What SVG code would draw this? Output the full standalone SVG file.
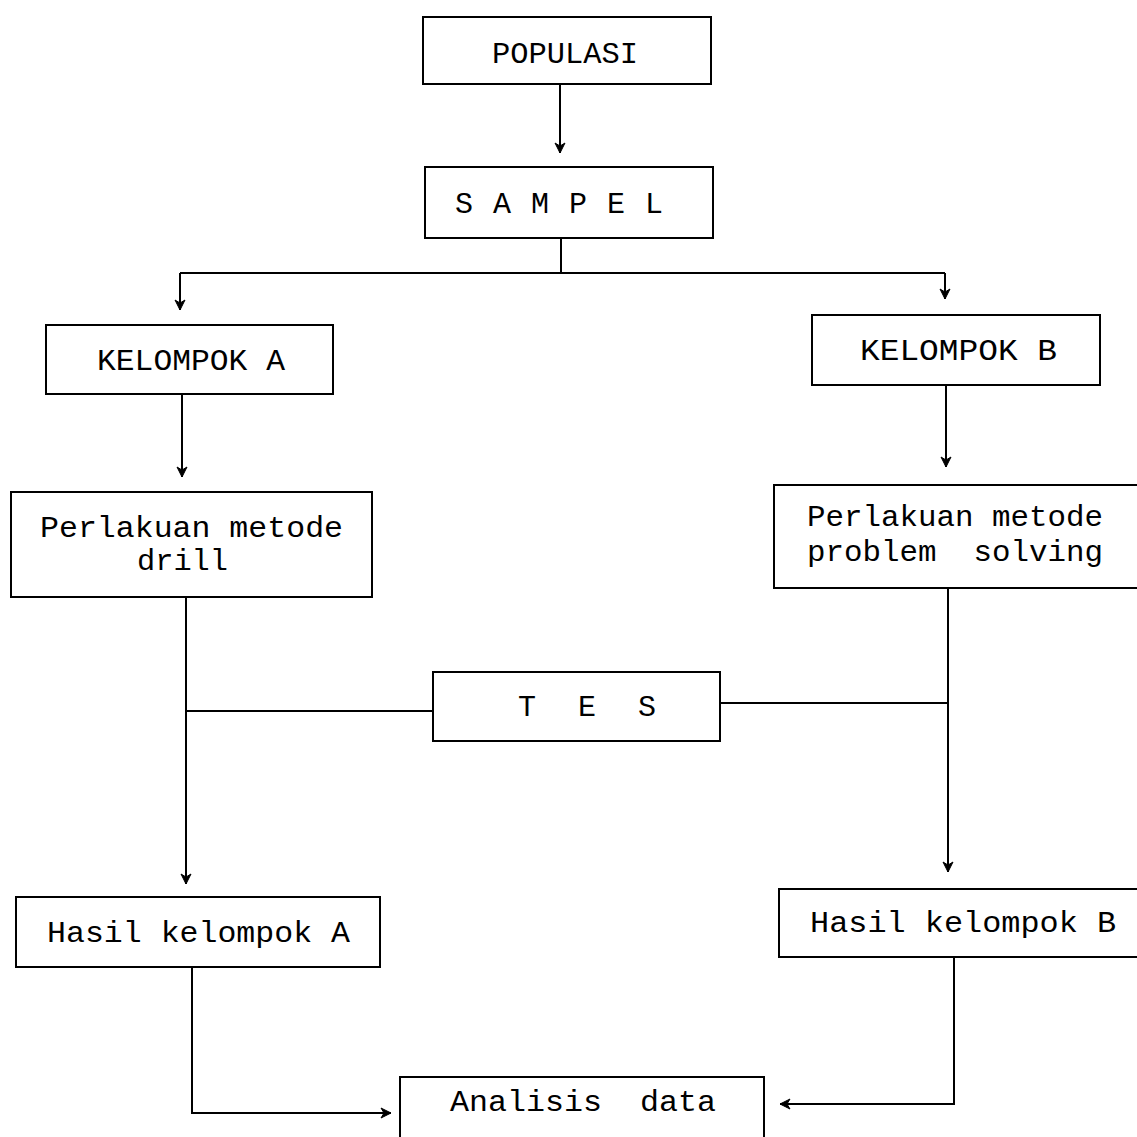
<svg xmlns="http://www.w3.org/2000/svg" width="1137" height="1137" viewBox="0 0 1137 1137">
  <style>
    .box { fill: #fff; stroke: #000; stroke-width: 2; }
    .lbl { font-family: "Liberation Mono", "DejaVu Sans Mono", monospace; font-size: 30px; fill: #000; }
    .wire { fill: none; stroke: #000; stroke-width: 2; }
  </style>
  <defs>
    <marker id="arr" viewBox="0 0 12 12" refX="11" refY="6" markerWidth="12" markerHeight="12" markerUnits="userSpaceOnUse" orient="auto">
      <path d="M1,1 L11,6 L1,11 L4,6 Z" fill="#000" stroke="#000" stroke-width="1"/>
    </marker>
  </defs>
  <rect width="1137" height="1137" fill="#fff"/>

  <g id="connectors">
    <path class="wire" d="M560,83 V153" marker-end="url(#arr)"/>
    <path class="wire" d="M561,238 V272"/>
    <path class="wire" d="M180,273 H945"/>
    <path class="wire" d="M180,273 V310" marker-end="url(#arr)"/>
    <path class="wire" d="M945,273 V299" marker-end="url(#arr)"/>
    <path class="wire" d="M182,394 V477" marker-end="url(#arr)"/>
    <path class="wire" d="M946,385 V467" marker-end="url(#arr)"/>
    <path class="wire" d="M186,597 V884" marker-end="url(#arr)"/>
    <path class="wire" d="M948,588 V872" marker-end="url(#arr)"/>
    <path class="wire" d="M187,711 H432"/>
    <path class="wire" d="M720,703 H948"/>
    <path class="wire" d="M192,967 V1113 H391" marker-end="url(#arr)"/>
    <path class="wire" d="M954,957 V1104 H780" marker-end="url(#arr)"/>
  </g>

  <g id="populasi">
    <rect class="box" x="423" y="17" width="288" height="67"/>
    <text class="lbl" x="492" y="63" textLength="146" lengthAdjust="spacingAndGlyphs">POPULASI</text>
  </g>
  <g id="sampel">
    <rect class="box" x="425" y="167" width="288" height="71"/>
    <text class="lbl" x="455" y="213" textLength="208" lengthAdjust="spacing" xml:space="preserve">S A M P E L</text>
  </g>
  <g id="kelompok-a">
    <rect class="box" x="46" y="325" width="287" height="69"/>
    <text class="lbl" x="97" y="370" textLength="188" lengthAdjust="spacingAndGlyphs">KELOMPOK A</text>
  </g>
  <g id="kelompok-b">
    <rect class="box" x="812" y="315" width="288" height="70"/>
    <text class="lbl" x="860" y="360" textLength="197" lengthAdjust="spacingAndGlyphs">KELOMPOK B</text>
  </g>
  <g id="perlakuan-drill">
    <rect class="box" x="11" y="492" width="361" height="105"/>
    <text class="lbl" x="40" y="537" textLength="303" lengthAdjust="spacingAndGlyphs">Perlakuan metode</text>
    <text class="lbl" x="137" y="570" textLength="91" lengthAdjust="spacingAndGlyphs">drill</text>
  </g>
  <g id="perlakuan-problem-solving">
    <rect class="box" x="774" y="485" width="370" height="103"/>
    <text class="lbl" x="807" y="526" textLength="296" lengthAdjust="spacingAndGlyphs">Perlakuan metode</text>
    <text class="lbl" x="807" y="561" textLength="296" lengthAdjust="spacingAndGlyphs" xml:space="preserve">problem  solving</text>
  </g>
  <g id="tes">
    <rect class="box" x="433" y="672" width="287" height="69"/>
    <text class="lbl" x="518" y="716" textLength="138" lengthAdjust="spacing" xml:space="preserve">T   E   S</text>
  </g>
  <g id="hasil-a">
    <rect class="box" x="16" y="897" width="364" height="70"/>
    <text class="lbl" x="47" y="942" textLength="303" lengthAdjust="spacingAndGlyphs">Hasil kelompok A</text>
  </g>
  <g id="hasil-b">
    <rect class="box" x="779" y="889" width="370" height="68"/>
    <text class="lbl" x="810" y="932" textLength="306" lengthAdjust="spacingAndGlyphs">Hasil kelompok B</text>
  </g>
  <g id="analisis-data">
    <rect class="box" x="400" y="1077" width="364" height="80"/>
    <text class="lbl" x="450" y="1111" textLength="266" lengthAdjust="spacingAndGlyphs" xml:space="preserve">Analisis  data</text>
  </g>
</svg>
